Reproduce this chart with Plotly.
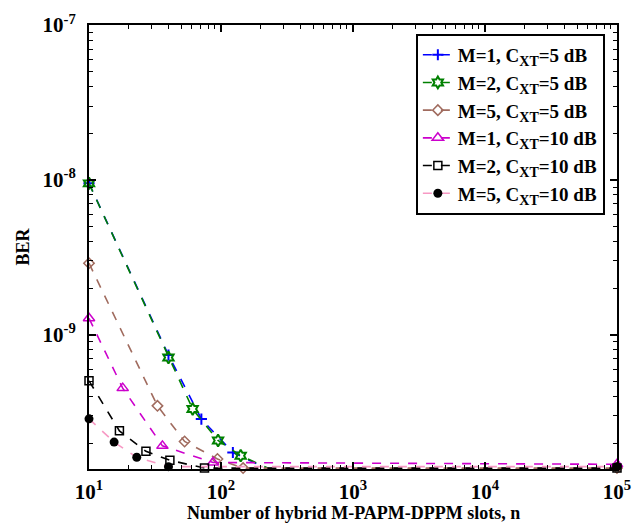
import plotly.graph_objects as go

# ---- data ----
sub_xt = "C<sub><span style='font-size:14px'>XT</span></sub>"
labels = [
    "M=1, " + sub_xt + "=5 dB",
    "M=2, " + sub_xt + "=5 dB",
    "M=5, " + sub_xt + "=5 dB",
    "M=1, " + sub_xt + "=10 dB",
    "M=2, " + sub_xt + "=10 dB",
    "M=5, " + sub_xt + "=10 dB",
]

n_m1_5 = [10, 40, 71, 123, 228, 100000]
ber_m1_5 = [9.5e-9, 7.4e-10, 2.86e-10, 1.74e-10, 1.36e-10, 1.36e-10]

n_m2_5 = [10, 40, 61, 95, 141, 239, 100000]
ber_m2_5 = [9.5e-9, 7.14e-10, 3.32e-10, 2.08e-10, 1.66e-10, 1.35e-10, 1.36e-10]

n_m5_5 = [10, 33, 53, 94, 147, 100000]
ber_m5_5 = [2.9e-9, 3.48e-10, 2.05e-10, 1.58e-10, 1.38e-10, 1.38e-10]

n_m1_10 = [10, 18, 36, 87, 100000]
ber_m1_10 = [1.28e-9, 4.53e-10, 1.92e-10, 1.5e-10, 1.46e-10]

n_m2_10 = [10, 17, 27, 41, 75, 100000]
ber_m2_10 = [5.05e-10, 2.4e-10, 1.77e-10, 1.55e-10, 1.38e-10, 1.38e-10]

n_m5_10 = [10, 15.5, 23, 40, 100000]
ber_m5_10 = [2.87e-10, 2.03e-10, 1.62e-10, 1.41e-10, 1.41e-10]

x_tick_vals = [10, 100, 1000, 10000, 100000]
x_tick_text = ["<b>10<sup>1</sup></b>", "<b>10<sup>2</sup></b>", "<b>10<sup>3</sup></b>",
               "<b>10<sup>4</sup></b>", "<b>10<sup>5</sup></b>"]
y_tick_vals = [1e-9, 1e-8, 1e-7]
y_tick_text = ["<b>10<sup>-9</sup></b>", "<b>10<sup>-8</sup></b>", "<b>10<sup>-7</sup></b>"]
x_title = "<b>Number of hybrid M-PAPM-DPPM slots, n</b>"

x_minor_vals = [m * 10 ** e for e in range(1, 5) for m in range(2, 10)]
y_minor_vals = [m * 10.0 ** e for e in range(-10, -7) for m in range(2, 10) if m * 10.0 ** e > 1.36e-10]

series = [
    (n_m1_5, ber_m1_5, "#0000ff", dict(symbol="cross-thin-open", size=8, color="#0000ff", line=dict(width=2, color="#0000ff"))),
    (n_m2_5, ber_m2_5, "#008000", dict(symbol="hexagram-open", size=9, color="#008000", line=dict(width=2, color="#008000"))),
    (n_m5_5, ber_m5_5, "#a06b5e", dict(symbol="diamond-open", size=8, color="#a06b5e", line=dict(width=1.5, color="#a06b5e"))),
    (n_m1_10, ber_m1_10, "#cc00cc", dict(symbol="triangle-up-open", size=10, color="#cc00cc", line=dict(width=1.5, color="#cc00cc"))),
    (n_m2_10, ber_m2_10, "#000000", dict(symbol="square-open", size=8, color="#000000", line=dict(width=1.5, color="#000000"))),
    (n_m5_10, ber_m5_10, "#f799c4", dict(symbol="circle", size=9, color="#000000", line=dict(width=0, color="#000000"))),
]

fig = go.Figure()
for i, (lab, (xs, ys, col, mk)) in enumerate(zip(labels, series)):
    fig.add_trace(go.Scatter(
        x=xs, y=ys, mode="lines+markers", name="<b>" + lab + "</b>",
        legendgroup="g%d" % i,
        line=dict(color=col, width=1.6, dash="dash"),
        marker=mk, cliponaxis=False,
    ))

def axis_common(minor_vals):
    return dict(
        showline=True, linecolor="black", linewidth=2, mirror="ticks",
        ticks="inside", ticklen=7, tickwidth=1.5, tickcolor="black",
        showgrid=False, zeroline=False, automargin=False,
        minor=dict(tickmode="array", tickvals=minor_vals, ticks="inside", ticklen=4,
                   tickwidth=1, tickcolor="black", showgrid=False),
    )

fig.update_xaxes(type="log", range=[1, 5], tickvals=x_tick_vals, ticktext=x_tick_text,
                 tickfont=dict(family="Liberation Serif", size=21, color="black"),
                 ticklabelstandoff=3,
                 **axis_common(x_minor_vals))
fig.update_yaxes(type="log", range=[-9.866, -7], tickvals=y_tick_vals, ticktext=y_tick_text,
                 tickfont=dict(family="Liberation Serif", size=21, color="black"),
                 ticklabelstandoff=7,
                 title=dict(text="<b>BER</b>",
                            font=dict(family="Liberation Serif", size=18, color="black"), standoff=8),
                 **axis_common(y_minor_vals))

fig.add_annotation(text=x_title, xref="paper", yref="paper", x=0.5, y=-0.098,
                   xanchor="center", yanchor="middle", showarrow=False,
                   font=dict(family="Liberation Serif", size=18, color="black"))

fig.update_layout(
    width=644, height=524,
    margin=dict(l=89, r=27, t=25, b=55, autoexpand=False),
    paper_bgcolor="white", plot_bgcolor="white",
    font=dict(family="Liberation Serif", color="black"),
    legend=dict(x=0.977, y=0.98, xanchor="right", yanchor="top",
                bordercolor="black", borderwidth=2, bgcolor="white",
                font=dict(family="Liberation Serif", size=19, color="black"),
                tracegroupgap=0),
    showlegend=True,
)

fig.write_html("out.html")
